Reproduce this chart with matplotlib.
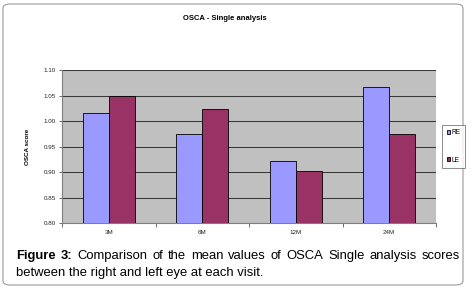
import matplotlib
matplotlib.use("Agg")
import matplotlib.pyplot as plt
import numpy as np
from matplotlib.patches import FancyBboxPatch

plt.rcParams['font.family'] = ['Liberation Sans', 'DejaVu Sans']

categories = ["3M", "6M", "12M", "24M"]
re_vals = [1.015, 0.975, 0.922, 1.066]
le_vals = [1.050, 1.024, 0.901, 0.975]
yticks = [0.80, 0.85, 0.90, 0.95, 1.00, 1.05, 1.10]

W, H = 476, 289
fig = plt.figure(figsize=(W/100, H/100), dpi=100)
fig.patch.set_facecolor('white')

# outer rounded frame
frame = FancyBboxPatch((3/W, 4/H), 460/W, 281/H, boxstyle="round,pad=0,rounding_size=0.015",
                       transform=fig.transFigure, facecolor='none', edgecolor='#9a9a9a', lw=0.8, zorder=-1)
fig.patches.append(frame)

ax = fig.add_axes([62/W, 1 - 223/H, 374/W, 153/H])
ax.set_facecolor('#C0C0C0')
x = np.arange(len(categories))
bw = 0.28
ax.bar(x - bw/2, [v - 0.8 for v in re_vals], bw, bottom=0.8, color='#9999FF', edgecolor='black', lw=0.6, zorder=3, label='RE')
ax.bar(x + bw/2, [v - 0.8 for v in le_vals], bw, bottom=0.8, color='#993366', edgecolor='black', lw=0.6, zorder=3, label='LE')
ax.set_ylim(0.80, 1.10)
ax.set_xlim(-0.5, 3.5)
ax.set_yticks(yticks)
ax.set_yticklabels([f"{v:.2f}" for v in yticks], fontsize=4.5, color='#222222')
ax.yaxis.grid(True, color='#383838', lw=0.75, zorder=1)
ax.set_axisbelow(True)
ax.set_xticks(x)
ax.set_xticklabels(categories, fontsize=4.5, color='#222222')
ax.tick_params(axis='x', length=0, pad=5)
ax.set_xticks([-0.5, 0.5, 1.5, 2.5, 3.5], minor=True)
ax.tick_params(axis='x', which='minor', length=3, color='#555555', width=0.6)
ax.tick_params(axis='y', length=2.5, color='#555555', width=0.6, pad=2)
for s in ['top', 'right']:
    ax.spines[s].set_visible(False)
ax.spines['left'].set_color('#808080')
ax.spines['bottom'].set_color('#808080')
ax.set_ylabel("OSCA score", fontsize=4.5, fontweight='bold', labelpad=10)

fig.text(225/W, 1 - 19/H, "OSCA - Single analysis", fontsize=5.5, fontweight='bold', ha='center', va='center')

leg = fig.legend(loc='center', bbox_to_anchor=(453.5/W, 1 - 146.5/H), fontsize=4.8, frameon=True,
                 handlelength=0.55, handleheight=0.55, handletextpad=0.15, labelspacing=3.0,
                 borderpad=0.7, borderaxespad=0, fancybox=False, edgecolor='#555555')
leg.get_frame().set_linewidth(0.6)

# caption, first line justified between x=16 and x=460 px
fs = 9.4
words1 = ["Figure", "3:", "Comparison", "of", "the", "mean", "values", "of", "OSCA", "Single", "analysis", "scores"]
bold = [True, True] + [False] * (len(words1) - 2)
renderer = fig.canvas.get_renderer()
tmp = [fig.text(0, 0, w, fontsize=fs, fontweight='bold' if b else 'normal') for w, b in zip(words1, bold)]
widths = [t.get_window_extent(renderer).width for t in tmp]
for t in tmp:
    t.remove()
left, right = 16, 460
gap = (right - left - sum(widths)) / (len(words1) - 1)
xpos = left
for w, b, wd in zip(words1, bold, widths):
    fig.text(xpos / W, 1 - 256/H, w, fontsize=fs, fontweight='bold' if b else 'normal', va='center', ha='left')
    xpos += wd + gap
fig.text(16/W, 1 - 273/H, "between the right and left eye at each visit.", fontsize=fs, va='center', ha='left')

fig.savefig("out.png", dpi=100)
